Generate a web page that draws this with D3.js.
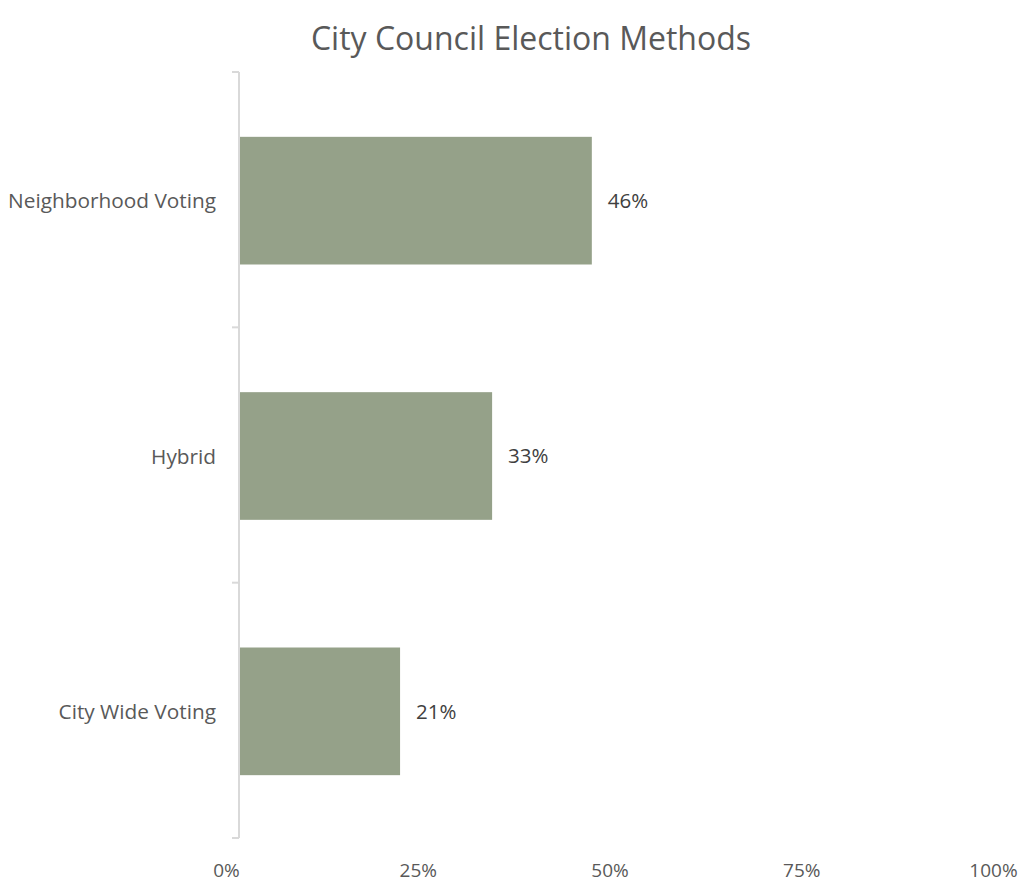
<!DOCTYPE html>
<html>
<head>
<meta charset="utf-8">
<script src="https://cdn.jsdelivr.net/npm/d3@7"></script>
<style>
  html, body { margin: 0; padding: 0; background: #fff; }
  svg { display: block; font-family: "Open Sans", sans-serif; }
</style>
</head>
<body>
<svg id="chart" width="1026" height="883"></svg>
<script>
const title = "City Council Election Methods";
const categories = ["Neighborhood Voting", "Hybrid", "City Wide Voting"];
const values = [0.46, 0.33, 0.21];
const valueLabels = ["46%", "33%", "21%"];
const xTicks = [0, 0.25, 0.5, 0.75, 1];

const svg = d3.select("#chart");
const plot = { left: 239, right: 1006, top: 72, bottom: 838 };

const x = d3.scaleLinear().domain([0, 1]).range([plot.left, plot.right]);
const y = d3.scaleBand().domain(categories).range([plot.top, plot.bottom]).paddingInner(0.5).paddingOuter(0.25);

svg.append("text")
  .attr("x", 531).attr("y", 50)
  .attr("text-anchor", "middle")
  .attr("font-size", 32)
  .attr("fill", "#595959")
  .text(title);

// bars
svg.selectAll("rect.bar").data(categories).join("rect")
  .attr("class", "bar")
  .attr("x", x(0))
  .attr("y", d => y(d) + 1)
  .attr("width", (d, i) => x(values[i]) - x(0))
  .attr("height", y.bandwidth())
  .attr("fill", "#95a189");

// value labels
svg.selectAll("text.val").data(categories).join("text")
  .attr("class", "val")
  .attr("x", (d, i) => x(values[i]) + 16)
  .attr("y", d => y(d) + y.bandwidth() / 2 + 3)
  .attr("dominant-baseline", "middle")
  .attr("font-size", 20.5)
  .attr("fill", "#404040")
  .text((d, i) => valueLabels[i]);

// y axis
const yAxisBand = d3.scaleBand().domain(categories).range([plot.top, plot.bottom]);
const yAxis = svg.append("g").attr("transform", `translate(${plot.left},0)`);
yAxis.append("line")
  .attr("x1", 0).attr("x2", 0)
  .attr("y1", plot.top).attr("y2", plot.bottom)
  .attr("stroke", "#d9d9d9").attr("stroke-width", 2);
const yTickPos = categories.map(c => yAxisBand(c)).concat([plot.bottom]);
yAxis.selectAll("line.tick").data(yTickPos).join("line")
  .attr("class", "tick")
  .attr("x1", -7).attr("x2", 0)
  .attr("y1", d => d).attr("y2", d => d)
  .attr("stroke", "#d9d9d9").attr("stroke-width", 2);
yAxis.selectAll("text.cat").data(categories).join("text")
  .attr("class", "cat")
  .attr("x", -23)
  .attr("y", d => yAxisBand(d) + yAxisBand.bandwidth() / 2 + 3)
  .attr("text-anchor", "end")
  .attr("dominant-baseline", "middle")
  .attr("font-size", 20.8)
  .attr("fill", "#595959")
  .text(d => d);

// x axis labels (no axis line)
const xAxis = svg.append("g")
  .attr("transform", `translate(0,${plot.bottom})`)
  .call(d3.axisBottom(x).tickValues(xTicks).tickFormat(d3.format(".0%")).tickSize(0).tickPadding(0));
xAxis.select(".domain").remove();
xAxis.selectAll("text")
  .attr("dx", -13)
  .attr("y", 39)
  .attr("dy", 0)
  .attr("font-size", 19)
  .attr("font-family", "Open Sans, sans-serif")
  .attr("fill", "#595959");
</script>
</body>
</html>
